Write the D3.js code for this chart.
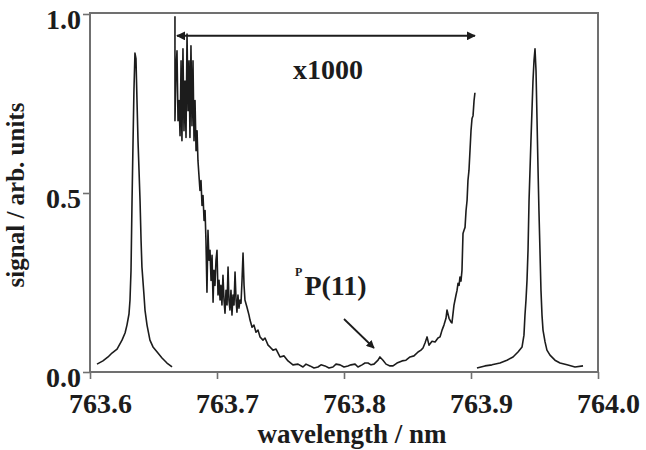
<!DOCTYPE html>
<html>
<head>
<meta charset="utf-8">
<script src="https://cdn.jsdelivr.net/npm/d3@7"></script>
<style>
  body { margin: 0; background: #fff; }
  svg { display: block; }
  text { font-family: 'Liberation Serif', 'Times New Roman', serif; font-weight: bold; }
</style>
</head>
<body>
<svg id="chart"></svg>
<script>
// Section-One Data : x1 trace, left line
const peakAWl = [763.6055, 763.6102, 763.6142, 763.6173, 763.6213, 763.6252, 763.6276, 763.6291, 763.6307, 763.6315,
  763.6323, 763.6331, 763.6339, 763.6346, 763.6354, 763.6362, 763.6370, 763.6378, 763.6386, 763.6394,
  763.6402, 763.6409, 763.6425, 763.6433, 763.6449, 763.6472, 763.6496, 763.6535, 763.6567, 763.6606, 763.6646];
const peakASig = [0.022, 0.031, 0.042, 0.053, 0.064, 0.089, 0.109, 0.131, 0.162, 0.201,
  0.284, 0.479, 0.646, 0.786, 0.891, 0.875, 0.758, 0.646, 0.563, 0.479,
  0.368, 0.293, 0.215, 0.173, 0.131, 0.089, 0.070, 0.053, 0.039, 0.025, 0.014];

// x1000 trace between the lines
const zoomWl = [763.6669, 763.6669, 763.6677, 763.6685, 763.6693, 763.6701, 763.6709, 763.6717, 763.6724, 763.6732,
  763.6740, 763.6748, 763.6756, 763.6764, 763.6772, 763.6780, 763.6787, 763.6795, 763.6803, 763.6811,
  763.6819, 763.6827, 763.6835, 763.6843, 763.6850, 763.6858, 763.6866, 763.6874, 763.6882, 763.6890,
  763.6898, 763.6906, 763.6913, 763.6921, 763.6929, 763.6937, 763.6945, 763.6953, 763.6961, 763.6969,
  763.6976, 763.6984, 763.6992, 763.7000, 763.7008, 763.7016, 763.7024, 763.7031, 763.7039, 763.7047,
  763.7055, 763.7063, 763.7071, 763.7079, 763.7087, 763.7094, 763.7102, 763.7110, 763.7118, 763.7126,
  763.7134, 763.7142, 763.7150, 763.7157, 763.7165, 763.7173, 763.7181, 763.7189, 763.7197, 763.7205,
  763.7213, 763.7220, 763.7236, 763.7252, 763.7260, 763.7276, 763.7291, 763.7307, 763.7323, 763.7339,
  763.7362, 763.7378, 763.7402, 763.7417, 763.7441, 763.7465, 763.7496, 763.7528, 763.7559, 763.7598,
  763.7638, 763.7677, 763.7701, 763.7732, 763.7764, 763.7795, 763.7819, 763.7850, 763.7882, 763.7913,
  763.7937, 763.7969, 763.8000, 763.8031, 763.8055, 763.8087, 763.8110, 763.8142, 763.8165, 763.8189,
  763.8213, 763.8236, 763.8268, 763.8283, 763.8307, 763.8331, 763.8362, 763.8386, 763.8417, 763.8457,
  763.8488, 763.8520, 763.8551, 763.8583, 763.8606, 763.8622, 763.8638, 763.8654, 763.8669, 763.8693,
  763.8717, 763.8740, 763.8756, 763.8772, 763.8787, 763.8803, 763.8811, 763.8827, 763.8843, 763.8850,
  763.8866, 763.8882, 763.8890, 763.8898, 763.8906, 763.8913, 763.8921, 763.8929, 763.8937, 763.8945,
  763.8953, 763.8961, 763.8969, 763.8976, 763.8984, 763.8992, 763.9000, 763.9008, 763.9016, 763.9024,
  763.9031];
const zoomSig = [0.994, 0.702, 0.841, 0.897, 0.702, 0.758, 0.660, 0.869, 0.646, 0.903,
  0.674, 0.813, 0.655, 0.944, 0.730, 0.869, 0.655, 0.911, 0.688, 0.869,
  0.646, 0.758, 0.618, 0.674, 0.591, 0.549, 0.507, 0.535, 0.465, 0.493,
  0.423, 0.451, 0.368, 0.223, 0.396, 0.312, 0.340, 0.256, 0.326, 0.195,
  0.284, 0.242, 0.312, 0.340, 0.215, 0.256, 0.201, 0.242, 0.187, 0.270,
  0.201, 0.164, 0.228, 0.187, 0.293, 0.201, 0.173, 0.228, 0.159, 0.215,
  0.187, 0.279, 0.201, 0.167, 0.215, 0.178, 0.201, 0.192, 0.256, 0.332,
  0.242, 0.201, 0.181, 0.159, 0.145, 0.125, 0.131, 0.111, 0.117, 0.098,
  0.089, 0.095, 0.075, 0.070, 0.061, 0.064, 0.042, 0.045, 0.031, 0.020,
  0.022, 0.014, 0.022, 0.017, 0.011, 0.014, 0.020, 0.017, 0.011, 0.014,
  0.022, 0.020, 0.014, 0.017, 0.020, 0.022, 0.014, 0.020, 0.025, 0.025,
  0.020, 0.022, 0.033, 0.042, 0.033, 0.022, 0.017, 0.017, 0.025, 0.031,
  0.033, 0.042, 0.045, 0.056, 0.061, 0.067, 0.081, 0.098, 0.075, 0.086,
  0.084, 0.095, 0.098, 0.117, 0.131, 0.150, 0.173, 0.150, 0.139, 0.137,
  0.187, 0.215, 0.228, 0.248, 0.242, 0.265, 0.254, 0.284, 0.387, 0.396,
  0.404, 0.451, 0.479, 0.535, 0.563, 0.618, 0.674, 0.708, 0.716, 0.758,
  0.780];

// x1 trace, right line
const peakBWl = [763.9047, 763.9110, 763.9165, 763.9228, 763.9283, 763.9331, 763.9370, 763.9402, 763.9417, 763.9425,
  763.9433, 763.9441, 763.9449, 763.9457, 763.9472, 763.9488, 763.9496, 763.9504, 763.9512, 763.9520,
  763.9528, 763.9535, 763.9543, 763.9551, 763.9559, 763.9567, 763.9583, 763.9598, 763.9622, 763.9661,
  763.9701, 763.9756, 763.9819, 763.9882];
const peakBSig = [0.011, 0.017, 0.020, 0.025, 0.033, 0.042, 0.056, 0.070, 0.103, 0.159,
  0.201, 0.256, 0.340, 0.479, 0.646, 0.813, 0.869, 0.903, 0.841, 0.702,
  0.563, 0.451, 0.340, 0.228, 0.159, 0.117, 0.084, 0.061, 0.047, 0.033,
  0.025, 0.020, 0.014, 0.017];

// axis ticks
const xTicks = [763.6, 763.7, 763.8, 763.9, 764.0];
const yTicks = [0.0, 0.5, 1.0];

// annotations
const spanWl = [763.6685, 763.9031];
const spanSig = 0.939;
const pointerWl = [763.8000, 763.8236];
const pointerSig = [0.148, 0.067];

const svgWidth = 646, svgHeight = 450;
let margins = {top: 13, bottom: 78, left: 90, right: 48};
const fontFam = "'Liberation Serif', 'Times New Roman', serif";
const ink = "#1c1c1c";
const axisGray = "#707070";

const svg = d3.select('#chart')
  .attr('width', svgWidth)
  .attr('height', svgHeight);

const xScale = d3.scaleLinear().domain([763.6, 764.0]).range([margins.left, svgWidth - margins.right]);
const yScale = d3.scaleLinear().domain([0, 1]).range([svgHeight - margins.bottom, margins.top + 1]);

const defs = svg.append('defs');
defs.append('marker')
  .attr('id', 'head')
  .attr('viewBox', '0 0 10 10')
  .attr('refX', 9).attr('refY', 5)
  .attr('markerWidth', 4.5).attr('markerHeight', 4.5)
  .attr('orient', 'auto-start-reverse')
  .append('path')
  .attr('d', 'M0,0 L10,5 L0,10 Z')
  .style('fill', ink);

// x axis
const xAxis = svg.append('g')
  .attr('transform', `translate(0, ${yScale(0)})`)
  .call(d3.axisBottom(xScale).tickValues(xTicks).tickFormat(d3.format('.1f')).tickSize(7).tickSizeOuter(0))
  .attr('font-family', fontFam)
  .attr('font-size', 28)
  .attr('font-weight', 'bold');
xAxis.select('.domain').remove();
xAxis.selectAll('line').style('stroke', axisGray).style('stroke-width', 1.6);
xAxis.selectAll('text')
  .attr('y', 41).attr('dy', 0).attr('dx', 10)
  .style('fill', ink);

// y axis
const yAxis = svg.append('g')
  .attr('transform', `translate(${xScale(763.6)}, 0)`)
  .call(d3.axisLeft(yScale).tickValues(yTicks).tickFormat(d3.format('.1f')).tickSize(7).tickSizeOuter(0))
  .attr('font-family', fontFam)
  .attr('font-size', 28)
  .attr('font-weight', 'bold');
yAxis.select('.domain').remove();
yAxis.selectAll('line').style('stroke', axisGray).style('stroke-width', 1.6);
yAxis.selectAll('text')
  .attr('x', -9).attr('dy', 0).attr('y', 14)
  .style('fill', ink);

// frame
svg.append('rect')
  .attr('x', xScale(763.6))
  .attr('y', margins.top)
  .attr('width', xScale(764.0) - xScale(763.6))
  .attr('height', yScale(0) - margins.top)
  .style('fill', 'none')
  .style('stroke', axisGray)
  .style('stroke-width', 2);

// traces
const traces = [
  d3.zip(peakAWl, peakASig),
  d3.zip(zoomWl, zoomSig),
  d3.zip(peakBWl, peakBSig)
];
const line = d3.line()
  .x(d => xScale(d[0]))
  .y(d => yScale(d[1]));

svg.append('g')
  .selectAll('path')
  .data(traces)
  .enter()
  .append('path')
  .attr('d', line)
  .style('fill', 'none')
  .style('stroke', ink)
  .style('stroke-width', 1.6)
  .style('stroke-linejoin', 'round');

// x1000 span arrow
svg.append('line')
  .attr('x1', xScale(spanWl[0])).attr('x2', xScale(spanWl[1]))
  .attr('y1', yScale(spanSig)).attr('y2', yScale(spanSig))
  .attr('marker-start', 'url(#head)')
  .attr('marker-end', 'url(#head)')
  .style('stroke', ink).style('stroke-width', 2);

svg.append('text')
  .attr('x', xScale(763.7874)).attr('y', yScale(0.819))
  .attr('text-anchor', 'middle')
  .style('font-size', '28px').style('fill', ink)
  .text('x1000');

// PP(11) label
const lab = svg.append('text')
  .attr('x', xScale(763.7615)).attr('y', yScale(0.2145))
  .style('font-size', '28px').style('fill', ink);
lab.append('tspan').attr('font-size', '12px').attr('dy', -19).text('P');
lab.append('tspan').attr('dy', 19).attr('dx', 2).text('P(11)');

svg.append('line')
  .attr('x1', xScale(pointerWl[0])).attr('y1', yScale(pointerSig[0]))
  .attr('x2', xScale(pointerWl[1])).attr('y2', yScale(pointerSig[1]))
  .attr('marker-end', 'url(#head)')
  .style('stroke', ink).style('stroke-width', 1.8);

// axis titles
svg.append('text')
  .attr('x', 352).attr('y', 443)
  .attr('text-anchor', 'middle')
  .style('font-size', '27px').style('fill', ink)
  .text('wavelength / nm');

svg.append('text')
  .attr('transform', 'translate(24, 195) rotate(-90)')
  .attr('text-anchor', 'middle')
  .style('font-size', '25px').style('fill', ink)
  .text('signal / arb. units');
</script>
</body>
</html>
